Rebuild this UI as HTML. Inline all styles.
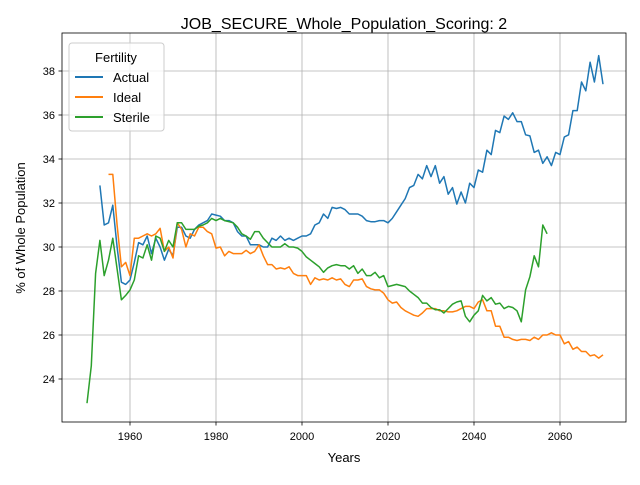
<!DOCTYPE html>
<html><head><meta charset="utf-8"><style>
body{margin:0;background:#fff}
svg text{font-family:"Liberation Sans","DejaVu Sans",sans-serif;fill:#000}
</style></head><body>
<svg id="chart" width="640" height="480" viewBox="0 0 640 480">
<rect width="640" height="480" fill="#fff"/>
<text x="344" y="29" font-size="16" text-anchor="middle">JOB_SECURE_Whole_Population_Scoring: 2</text>
<g id="grid"></g><g id="series"></g><g id="axes"></g>
<text x="344" y="462" font-size="13" text-anchor="middle">Years</text>
<text transform="translate(25,228) rotate(-90)" font-size="13" text-anchor="middle">% of Whole Population</text>
<g>
<rect x="69" y="43" width="95" height="88" rx="3" fill="#fff" fill-opacity="0.8" stroke="#ccc"/>
<text x="116" y="62" font-size="13" text-anchor="middle">Fertility</text>
<g><line x1="75" y1="77" x2="103" y2="77" stroke="#1f77b4" stroke-width="2"/><text x="113" y="82" font-size="13">Actual</text></g>
<g><line x1="75" y1="97" x2="103" y2="97" stroke="#ff7f0e" stroke-width="2"/><text x="113" y="102" font-size="13">Ideal</text></g>
<g><line x1="75" y1="117" x2="103" y2="117" stroke="#2ca02c" stroke-width="2"/><text x="113" y="122" font-size="13">Sterile</text></g>
</g>
</svg>
<script>
const xTicks=[1960,1980,2000,2020,2040,2060];
const yTicks=[24,26,28,30,32,34,36,38];
const actualStart=1953;
const actual=[32.8,31.0,31.1,31.9,30.0,28.4,28.3,28.5,29.3,30.2,30.1,30.5,29.7,30.4,30.0,29.4,29.9,29.6,30.9,30.9,30.5,30.4,30.8,31.0,31.1,31.2,31.5,31.45,31.4,31.2,31.2,31.1,30.7,30.5,30.5,30.1,30.1,30.1,30.0,30.0,30.4,30.3,30.5,30.3,30.4,30.3,30.4,30.5,30.5,30.6,31.0,31.1,31.5,31.3,31.8,31.75,31.8,31.7,31.5,31.5,31.5,31.4,31.2,31.15,31.15,31.2,31.2,31.1,31.3,31.6,31.9,32.2,32.7,32.8,33.3,33.1,33.7,33.2,33.7,32.9,33.2,32.4,32.7,31.95,32.5,32.0,32.9,32.7,33.5,33.4,34.4,34.2,35.3,35.2,35.95,35.8,36.1,35.7,35.7,35.1,35.05,34.3,34.4,33.8,34.1,33.7,34.3,34.2,35.0,35.1,36.2,36.2,37.5,37.1,38.4,37.5,38.7,37.4];
const idealStart=1955;
const ideal=[33.3,33.3,31.0,29.1,29.3,28.7,30.4,30.4,30.5,30.6,30.5,30.6,30.85,29.8,30.0,29.5,31.1,30.8,30.0,30.6,30.5,30.9,30.9,30.7,30.6,29.95,30.0,29.6,29.8,29.7,29.7,29.7,29.85,29.7,29.8,30.1,29.6,29.2,29.2,29.0,29.05,29.0,29.1,28.8,28.7,28.7,28.7,28.3,28.6,28.5,28.55,28.5,28.6,28.5,28.55,28.3,28.2,28.5,28.5,28.55,28.2,28.1,28.05,28.05,27.9,27.6,27.45,27.5,27.25,27.1,27.0,26.9,26.85,27.0,27.2,27.2,27.2,27.1,27.1,27.05,27.05,27.1,27.2,27.3,27.3,27.2,27.5,27.6,27.1,27.1,26.4,26.4,25.9,25.9,25.8,25.75,25.8,25.8,25.75,25.9,25.8,26.0,26.0,26.1,26.0,26.0,25.6,25.7,25.35,25.45,25.25,25.25,25.05,25.1,24.95,25.1];
const sterileStart=1950;
const sterile=[22.9,24.6,28.8,30.3,28.7,29.4,30.4,29.0,27.6,27.8,28.05,28.5,29.6,29.5,30.1,29.4,30.5,30.4,29.8,30.3,30.0,31.1,31.1,30.8,30.8,30.8,30.95,31.0,31.1,31.3,31.2,31.3,31.2,31.15,31.1,30.9,30.6,30.5,30.35,30.7,30.7,30.4,30.2,30.0,30.0,30.0,30.15,30.0,30.0,29.95,29.8,29.55,29.4,29.25,29.1,28.85,29.05,29.15,29.2,29.15,29.15,29.0,29.15,28.8,29.0,28.7,28.7,28.85,28.6,28.7,28.2,28.25,28.3,28.25,28.2,28.0,27.85,27.7,27.45,27.45,27.25,27.15,27.15,27.0,27.2,27.4,27.5,27.55,26.85,26.6,26.9,27.1,27.8,27.55,27.7,27.4,27.45,27.2,27.3,27.25,27.1,26.6,28.05,28.65,29.6,29.1,31.0,30.6];
const L=62,R=626,T=33,B=422;
const xs=y=>130+(y-1960)*4.3;
const ys=v=>379-(v-24)*22;
const NS='http://www.w3.org/2000/svg';
function mk(t,p,parent){const e=document.createElementNS(NS,t);for(const k in p)e.setAttribute(k,p[k]);parent.appendChild(e);return e;}
const grid=document.getElementById('grid'),axes=document.getElementById('axes'),ser=document.getElementById('series');
xTicks.forEach(t=>{const x=xs(t);
const g=mk('line',{x1:x,x2:x,y1:T,y2:B,stroke:'#b0b0b0','stroke-width':0.8},grid);


mk('line',{x1:x,x2:x,y1:B,y2:B+3.5,stroke:'#000','stroke-width':0.8},axes);
const tx=mk('text',{x:x,y:B+18,'font-size':11,'text-anchor':'middle'},axes);tx.textContent=t;

});
yTicks.forEach(t=>{const y=ys(t);
const g=mk('line',{x1:L,x2:R,y1:y,y2:y,stroke:'#b0b0b0','stroke-width':0.8},grid);


mk('line',{x1:L-3.5,x2:L,y1:y,y2:y,stroke:'#000','stroke-width':0.8},axes);
const tx=mk('text',{x:L-7,y:y+4,'font-size':11,'text-anchor':'end'},axes);tx.textContent=t;

});
const fr=mk('rect',{x:L,y:T,width:R-L,height:B-T,fill:'none',stroke:'#000','stroke-width':0.8},axes);


function line(vals,start,color,name){const pts=vals.map((v,i)=>xs(start+i).toFixed(1)+','+ys(v).toFixed(1)).join(' ');
const p=mk('polyline',{points:pts,fill:'none',stroke:color,'stroke-width':1.5,'stroke-linejoin':'round'},ser);

}
line(actual,actualStart,'#1f77b4','actual-line');
line(ideal,idealStart,'#ff7f0e','ideal-line');
line(sterile,sterileStart,'#2ca02c','sterile-line');
</script>
</body></html>
